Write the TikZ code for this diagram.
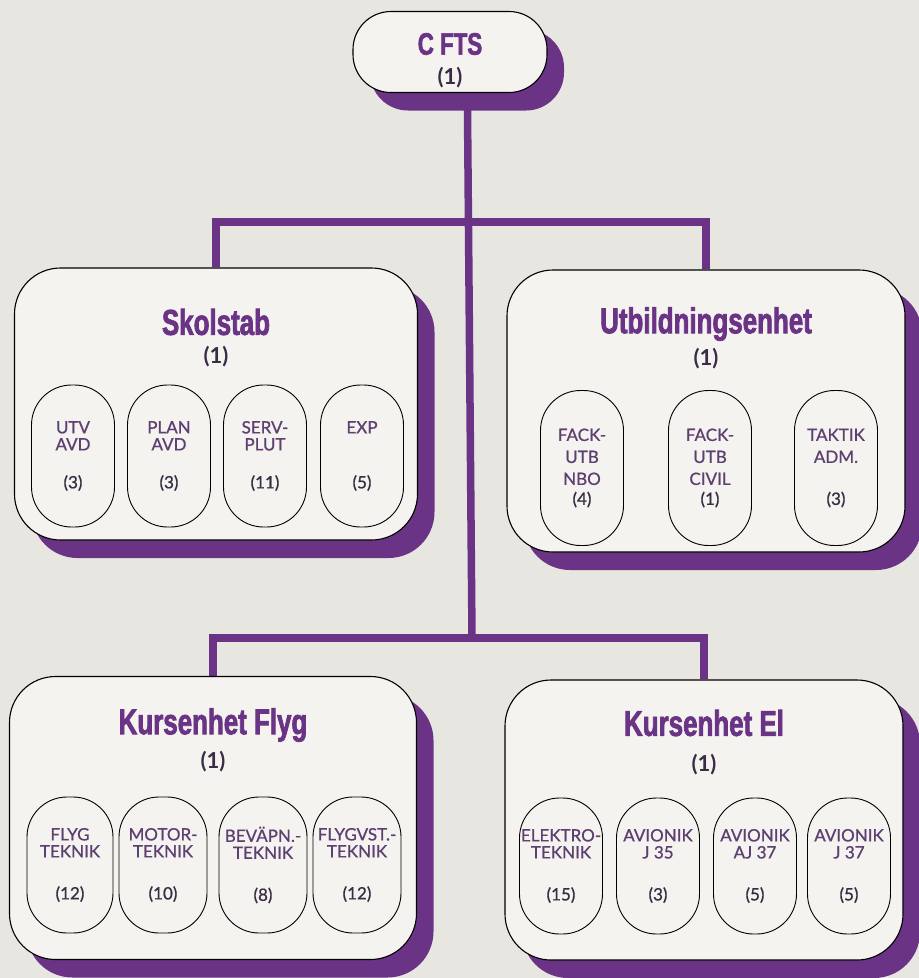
\documentclass[tikz,border=0pt]{standalone}
\usepackage{fontspec}
\usepackage{tikz}
\usetikzlibrary{shadows,backgrounds}
\setmainfont{Lato}
\newfontfamily\headfont[FakeStretch=0.72,FakeBold=2]{Liberation Sans}
\newfontfamily\ovalfont[FakeBold=0.8]{Lato}
\definecolor{ftspurple}{HTML}{6B3386}
\definecolor{ftspaper}{HTML}{E7E6E1}
\definecolor{ftsbox}{HTML}{F4F3EF}
\definecolor{ftslabel}{HTML}{5E3F72}
\definecolor{ftsdark}{HTML}{3A2C45}
\newcommand{\cnt}[1]{\textcolor{ftsdark}{(#1)}}

\begin{document}
\begin{tikzpicture}[x=1pt,y=-1pt,
  unit/.style={draw=black,line width=1.1pt,fill=ftsbox,rounded corners=46pt,
    drop shadow={shadow xshift=17pt,shadow yshift=-18pt,fill=ftspurple,opacity=1}},
  oval/.style={draw=black,line width=0.9pt,fill=ftsbox,rounded corners=40pt,
    minimum width=83pt,inner sep=0pt,align=center,text=ftslabel,
    font=\ovalfont\fontsize{17}{17}\selectfont},
  head/.style={text=ftspurple,inner sep=1pt,font=\headfont\bfseries\fontsize{36}{40}\selectfont},
  cnthead/.style={text=ftsdark,inner sep=1pt,font=\bfseries\fontsize{22}{24}\selectfont},
  conn/.style={draw=ftspurple,line width=7.5pt}]
  \useasboundingbox (0,0) rectangle (919,978);

  % top
  \node[unit,rounded corners=38pt,minimum width=194pt,minimum height=81pt] (cfts) at (450,52) {};
  \node[head,font=\headfont\bfseries\fontsize{31}{34}\selectfont] (cftsT) at (450,44) {C FTS};
  \node[cnthead] (cftsC) at (450,78) {(1)};

  % second level
  \node[unit,minimum width=403pt,minimum height=272pt] (skolstab) at (216,404) {};
  \node[head] (skolstabT) at (216,322) {Skolstab};
  \node[cnthead] (skolstabC) at (216,357) {(1)};
  \node[oval,minimum height=142pt] (utv) at (73,456) {UTV\\AVD\\[21pt]\cnt{3}};
  \node[oval,minimum height=142pt] (plan) at (169,456) {PLAN\\AVD\\[21pt]\cnt{3}};
  \node[oval,minimum height=142pt] (serv) at (265,456) {SERV-\\PLUT\\[21pt]\cnt{11}};
  \node[oval,minimum height=142pt] (exp) at (362,456) {EXP\\\mbox{}\\[21pt]\cnt{5}};

  \node[unit,minimum width=398pt,minimum height=282pt] (utb) at (706,411) {};
  \node[head] (utbT) at (706,324) {Utbildningsenhet};
  \node[cnthead] (utbC) at (706,359) {(1)};
  \node[oval,minimum height=155pt] (nbo) at (582,468) {FACK-\\[5pt]UTB\\[5pt]NBO\\[3pt]\cnt{4}};
  \node[oval,minimum height=155pt] (civil) at (710,468) {FACK-\\[5pt]UTB\\[5pt]CIVIL\\[3pt]\cnt{1}};
  \node[oval,minimum height=155pt] (taktik) at (836,468) {TAKTIK\\[5pt]ADM.\\[25pt]\cnt{3}};

  % third level
  \node[unit,minimum width=407pt,minimum height=283pt] (flyg) at (213,818) {};
  \node[head] (flygT) at (213,725) {Kursenhet Flyg};
  \node[cnthead] (flygC) at (213,762) {(1)};
  \node[oval,minimum width=86pt,minimum height=136pt] (flygtek) at (70,865) {FLYG\\TEKNIK\\[25pt]\cnt{12}};
  \node[oval,minimum width=88pt,minimum height=136pt] (motor) at (163,865) {MOTOR-\\TEKNIK\\[25pt]\cnt{10}};
  \node[oval,minimum width=88pt,minimum height=136pt] (bevapn) at (263,865) {BEVÄPN.-\\TEKNIK\\[25pt]\cnt{8}};
  \node[oval,minimum width=88pt,minimum height=136pt] (flygvst) at (357,865) {FLYGVST.-\\TEKNIK\\[25pt]\cnt{12}};

  \node[unit,minimum width=398pt,minimum height=280pt] (el) at (704,820) {};
  \node[head] (elT) at (704,723) {Kursenhet El};
  \node[cnthead] (elC) at (704,765) {(1)};
  \node[oval,minimum height=136pt] (elektro) at (561,866) {ELEKTRO-\\TEKNIK\\[25pt]\cnt{15}};
  \node[oval,minimum height=136pt] (jtrefem) at (658,866) {AVIONIK\\J 35\\[25pt]\cnt{3}};
  \node[oval,minimum height=136pt] (ajtresju) at (755,866) {AVIONIK\\AJ 37\\[25pt]\cnt{5}};
  \node[oval,minimum height=136pt] (jtresju) at (849,866) {AVIONIK\\J 37\\[25pt]\cnt{5}};

  \begin{scope}[on background layer]
    \fill[ftspaper] (0,0) rectangle (919,978);
    \coordinate (upper) at (472,222);
    \coordinate (lower) at (472,638);
    \draw[conn] ([xshift=17pt]cfts.center) -- (lower);
    \draw[conn] (skolstab.north) |- (upper) -| (utb.north);
    \draw[conn] (flyg.north) |- (lower) -| (el.north);
  \end{scope}
\end{tikzpicture}
\end{document}
